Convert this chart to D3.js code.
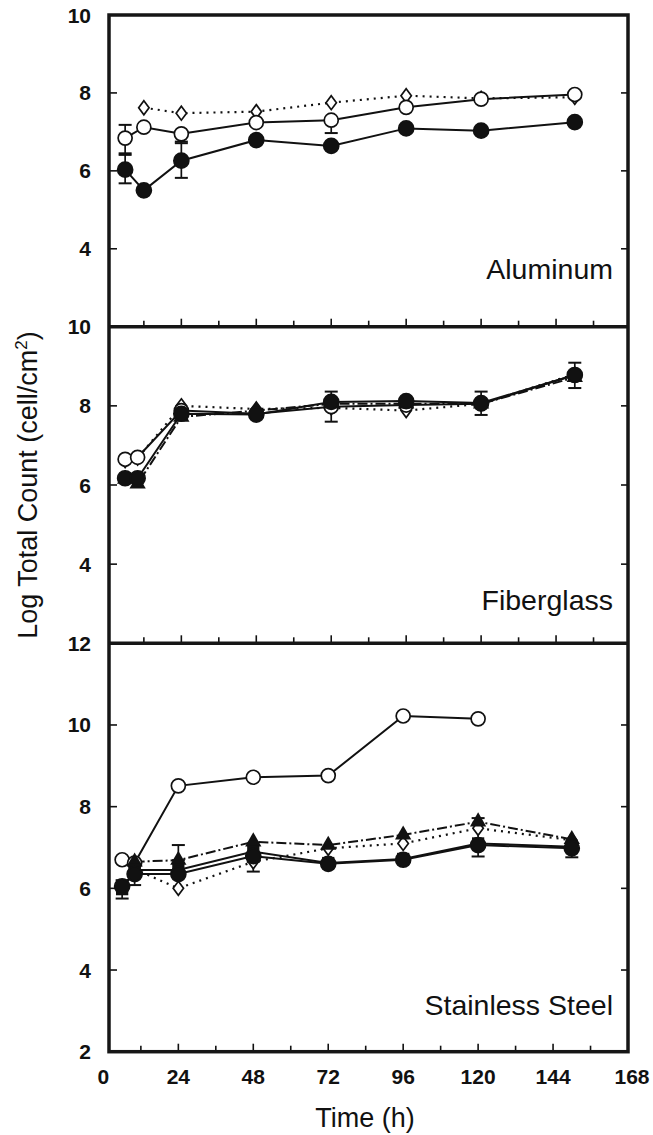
<!DOCTYPE html>
<html>
<head>
<meta charset="utf-8">
<script src="https://cdn.jsdelivr.net/npm/d3@7/dist/d3.min.js"></script>
<style>
  body { margin: 0; background: #fff; }
  svg text { font-family: "Liberation Sans", Arial, Helvetica, sans-serif; fill: #111; }
</style>
</head>
<body>
<div id="chart"></div>
<script>
// ---------------------------------------------
// data
// ---------------------------------------------
const xTicks = [0, 24, 48, 72, 96, 120, 144, 168];
const panelNames = ["Aluminum", "Fiberglass", "Stainless Steel"];
const yDomains = [[2, 10], [2, 10], [2, 12]];
const yLabels = [[4, 6, 8, 10], [4, 6, 8, 10], [2, 4, 6, 8, 10, 12]];

const timesAl = [6, 12, 24, 48, 72, 96, 120, 150];
const timesOther = [6, 10, 24, 48, 72, 96, 120, 150];

// Aluminum
const alDiamond = [null, 7.62, 7.48, 7.52, 7.75, 7.93, 7.86, 7.89];
const alOpen    = [6.84, 7.12, 6.95, 7.24, 7.30, 7.63, 7.84, 7.96];
const alFilled  = [6.03, 5.50, 6.26, 6.79, 6.64, 7.09, 7.03, 7.25];

// Fiberglass
const fgOpen     = [6.65, 6.70, 7.88, 7.80, 7.98, 8.02, 8.05, 8.78];
const fgDiamond  = [6.62, 6.68, 8.00, 7.92, 7.95, 7.88, 8.05, 8.80];
const fgFilled   = [6.17, 6.17, 7.80, 7.78, 8.10, 8.12, 8.07, 8.78];
const fgTriangle = [6.15, 6.03, 7.72, 7.88, 8.05, 8.05, 8.05, 8.72];

// Stainless steel
const ssOpen     = [6.70, 6.62, 8.51, 8.72, 8.76, 10.22, 10.15, null];
const ssTriangle = [null, 6.65, 6.69, 7.14, 7.06, 7.31, 7.63, 7.20];
const ssDiamond  = [null, 6.47, 6.00, 6.65, 6.98, 7.10, 7.47, 7.18];
const ssSquare   = [5.98, 6.45, 6.45, 6.90, 6.62, 6.72, 7.10, 7.02];
const ssFilled   = [6.05, 6.35, 6.35, 6.79, 6.60, 6.70, 7.06, 6.98];

// error bars: [time, low, high]
const alErrors = [[6, 6.45, 7.18], [6, 5.68, 6.41], [24, 6.71, 6.95], [24, 5.82, 6.75], [72, 6.97, 7.30]];
const fgErrors = [[72, 7.60, 8.36], [120, 7.77, 8.36], [150, 8.45, 9.09]];
const ssErrors = [[6, 5.75, 6.20], [10, 6.08, 6.45], [24, 6.69, 7.06], [48, 6.41, 6.65], [120, 6.78, 7.72], [150, 6.76, 6.98]];

// ---------------------------------------------
// layout
// ---------------------------------------------
const W = 653, H = 1135;
const left = 109, right = 628;
const rows = [[15, 326.7], [326.7, 643.3], [643.3, 1051.7]];
const xShift = [3, 3, 0]; // the scan is slightly skewed

const panels = [
  { times: timesAl, errors: alErrors, series: [
      { v: alDiamond, mark: "diamond", dash: "dot" },
      { v: alOpen, mark: "openCircle", dash: "solid" },
      { v: alFilled, mark: "filledCircle", dash: "solid" } ] },
  { times: timesOther, errors: fgErrors, series: [
      { v: fgDiamond, mark: "diamond", dash: "dot" },
      { v: fgOpen, mark: "openCircle", dash: "solid" },
      { v: fgTriangle, mark: "triangle", dash: "dashdot" },
      { v: fgFilled, mark: "filledCircle", dash: "solid" } ] },
  { times: timesOther, errors: ssErrors, series: [
      { v: ssOpen, mark: "openCircle", dash: "solid" },
      { v: ssDiamond, mark: "diamond", dash: "dot" },
      { v: ssTriangle, mark: "triangle", dash: "dashdot" },
      { v: ssSquare, mark: "square", dash: "solid" },
      { v: ssFilled, mark: "filledCircle", dash: "solid" } ] }
];

const dashes = { solid: null, dot: "2,5", dashdot: "10,3,2,3" };

const svg = d3.select("#chart").append("svg")
    .attr("width", W)
    .attr("height", H);

const x = d3.scaleLinear().domain([0, 168]).range([103.4, 628]);

panels.forEach(function(p, i) {
  const y = d3.scaleLinear().domain(yDomains[i]).range([rows[i][1], rows[i][0]]);
  const xs = (t) => x(t) + xShift[i];
  const g = svg.append("g");

  // y ticks, inward on both sides
  const ticksY = d3.range(yDomains[i][0] + 2, yDomains[i][1], 2);
  ticksY.forEach(function(v) {
    g.append("line").attr("x1", left).attr("x2", left + 8)
      .attr("y1", y(v)).attr("y2", y(v)).attr("stroke", "#111").attr("stroke-width", 1.6);
    g.append("line").attr("x1", right - 7).attr("x2", right)
      .attr("y1", y(v)).attr("y2", y(v)).attr("stroke", "#111").attr("stroke-width", 1.6);
  });

  // x ticks along the bottom of each panel, pointing up
  d3.range(12, 168, 12).forEach(function(t) {
    const len = t % 24 === 0 ? 8 : 6;
    g.append("line").attr("x1", xs(t)).attr("x2", xs(t))
      .attr("y1", rows[i][1]).attr("y2", rows[i][1] - len)
      .attr("stroke", "#111").attr("stroke-width", 1.6);
  });

  // y labels
  g.selectAll(".ylab").data(yLabels[i]).enter().append("text")
    .attr("x", 91).attr("y", (d) => y(d) + 7.5)
    .attr("text-anchor", "end")
    .attr("font-size", 21).attr("font-weight", "bold")
    .text((d) => d);

  // panel name
  g.append("text")
    .attr("x", 613)
    .attr("y", [279, 610, 1015][i])
    .attr("text-anchor", "end")
    .attr("font-size", 28.5)
    .text(panelNames[i]);

  // lines
  p.series.forEach(function(s) {
    const pts = p.times.map((t, k) => ({ t: t, v: s.v[k] }));
    const line = d3.line()
      .defined((d) => d.v != null)
      .x((d) => xs(d.t))
      .y((d) => y(d.v));
    g.append("path")
      .attr("d", line(pts))
      .attr("fill", "none")
      .attr("stroke", "#111")
      .attr("stroke-width", s.dash === "dot" ? 2.2 : 2)
      .attr("stroke-dasharray", dashes[s.dash]);
  });

  // error bars
  p.errors.forEach(function(e) {
    const cx = xs(e[0]);
    g.append("line").attr("x1", cx).attr("x2", cx)
      .attr("y1", y(e[1])).attr("y2", y(e[2]))
      .attr("stroke", "#111").attr("stroke-width", 1.7);
    [e[1], e[2]].forEach(function(v) {
      g.append("line").attr("x1", cx - 6.5).attr("x2", cx + 6.5)
        .attr("y1", y(v)).attr("y2", y(v))
        .attr("stroke", "#111").attr("stroke-width", 2);
    });
  });

  // markers
  p.series.forEach(function(s) {
    const pts = p.times.map((t, k) => ({ t: t, v: s.v[k] })).filter((d) => d.v != null);
    const m = g.selectAll(null).data(pts).enter();
    if (s.mark === "filledCircle" || s.mark === "openCircle") {
      m.append("circle")
        .attr("cx", (d) => xs(d.t)).attr("cy", (d) => y(d.v))
        .attr("r", s.mark === "filledCircle" ? 7.5 : 7)
        .attr("fill", s.mark === "filledCircle" ? "#111" : "#fff")
        .attr("stroke", "#111").attr("stroke-width", 1.7);
    } else if (s.mark === "diamond") {
      m.append("path")
        .attr("d", "M0,-7L5.2,0L0,7L-5.2,0Z")
        .attr("transform", (d) => "translate(" + xs(d.t) + "," + y(d.v) + ")")
        .attr("fill", "#fff").attr("stroke", "#111").attr("stroke-width", 1.7);
    } else if (s.mark === "triangle") {
      m.append("path")
        .attr("d", d3.symbol(d3.symbolTriangle, 115))
        .attr("transform", (d) => "translate(" + xs(d.t) + "," + y(d.v) + ")")
        .attr("fill", "#111");
    } else if (s.mark === "square") {
      m.append("path")
        .attr("d", d3.symbol(d3.symbolSquare, 150))
        .attr("transform", (d) => "translate(" + xs(d.t) + "," + y(d.v) + ")")
        .attr("fill", "#111");
    }
  });
});

// frame and panel separators
svg.append("rect")
  .attr("x", left).attr("y", rows[0][0])
  .attr("width", right - left).attr("height", rows[2][1] - rows[0][0])
  .attr("fill", "none").attr("stroke", "#161616").attr("stroke-width", 3.5);
[rows[0][1], rows[1][1]].forEach(function(yy) {
  svg.append("line").attr("x1", left).attr("x2", right)
    .attr("y1", yy).attr("y2", yy)
    .attr("stroke", "#161616").attr("stroke-width", 3.5);
});

// x labels
svg.selectAll(".xlab").data(xTicks).enter().append("text")
  .attr("x", (d) => x(d) + (d === 168 ? 4 : 0))
  .attr("y", 1084)
  .attr("text-anchor", "middle")
  .attr("font-size", 21).attr("font-weight", "bold")
  .text((d) => d);

// axis titles
svg.append("text")
  .attr("x", 365).attr("y", 1127)
  .attr("text-anchor", "middle")
  .attr("font-size", 27)
  .text("Time (h)");

const yt = svg.append("text")
  .attr("transform", "translate(37,485) rotate(-90)")
  .attr("text-anchor", "middle")
  .attr("font-size", 27);
yt.append("tspan").text("Log Total Count (cell/cm");
yt.append("tspan").attr("font-size", 17).attr("dy", -10).text("2");
yt.append("tspan").attr("dy", 10).text(")");
</script>
</body>
</html>
